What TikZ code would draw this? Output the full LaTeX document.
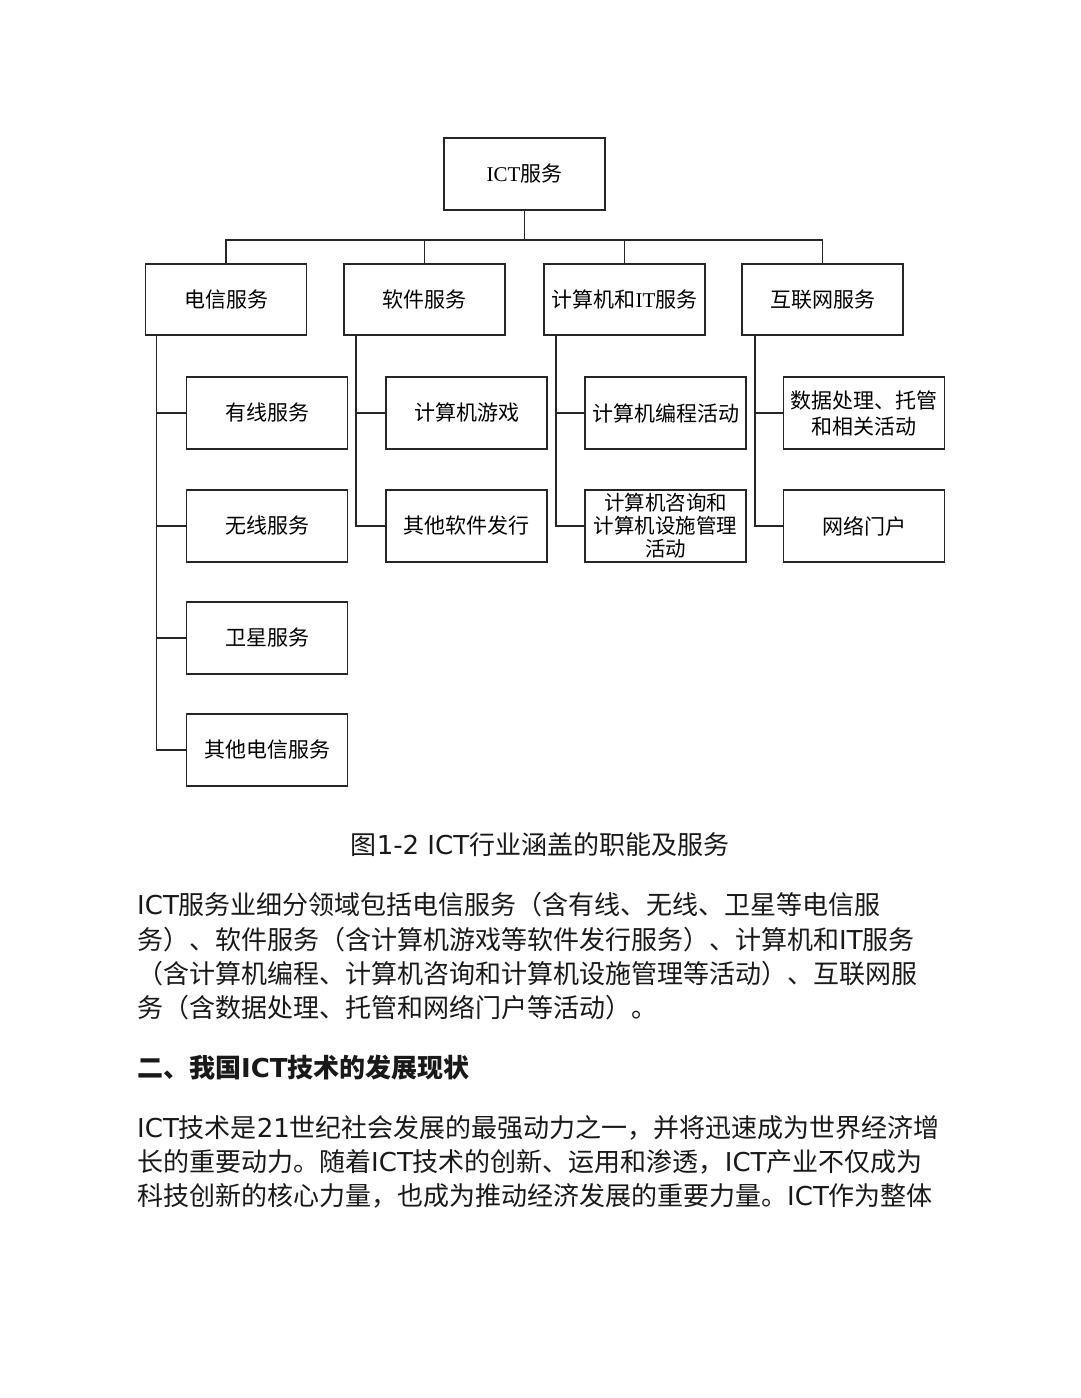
\documentclass[tikz,border=0pt]{standalone}
\usepackage{fontspec}
\setmainfont{Noto Sans CJK SC}
\newfontfamily\lat{DejaVu Sans}
\newfontfamily\ser{Liberation Serif}
\begin{document}
\begin{tikzpicture}[x=1pt,y=-1pt,
  box/.style={draw=black!85,line width=1.6pt,minimum width=161pt,minimum height=72pt,inner sep=0pt,align=center,font=\fontsize{21}{26}\selectfont},
  link/.style={draw=black!85,line width=1.5pt},
  body/.style={anchor=base west,inner sep=0pt,font=\fontsize{26}{34}\selectfont,text=black!90}]
\useasboundingbox (0,0) rectangle (1080,1398);
\fill[white] (0,0) rectangle (1080,1398);
% level 0
\node[box] (ict) at (524.5,174) {{\ser ICT}服务};
% level 1
\node[box,minimum height=71pt] (tel) at (226,299.5) {电信服务};
\node[box,minimum height=71pt] (sw) at (424.5,299.5) {软件服务};
\node[box,minimum height=71pt] (cit) at (624.5,299.5) {计算机和{\ser IT}服务};
\node[box,minimum height=71pt] (net) at (822.5,299.5) {互联网服务};
% level 2
\node[box] (t1) at (267,413) {有线服务};
\node[box] (t2) at (267,526) {无线服务};
\node[box] (t3) at (267,638) {卫星服务};
\node[box] (t4) at (267,750) {其他电信服务};
\node[box] (s1) at (466.5,413) {计算机游戏};
\node[box] (s2) at (466.5,526) {其他软件发行};
\node[box] (c1) at (665.5,413) {计算机编程活动};
\node[box,font=\fontsize{20.5}{23}\selectfont] (c2) at (665.5,526) {计算机咨询和\\计算机设施管理\\活动};
\node[box,font=\fontsize{21}{26}\selectfont] (n1) at (864,413) {数据处理、托管\\和相关活动};
\node[box] (n2) at (864,526) {网络门户};
% bus
\coordinate (bus) at (524.5,240);
\draw[link] (ict.south) -- (bus);
\draw[link] (tel.north) -- (tel.north |- bus) -- (net.north |- bus) -- (net.north);
\draw[link] (sw.north) -- (sw.north |- bus);
\draw[link] (cit.north) -- (cit.north |- bus);
% trunks
\coordinate (tt) at ([xshift=12pt]tel.south west);
\coordinate (st) at ([xshift=13pt]sw.south west);
\coordinate (ct) at ([xshift=13pt]cit.south west);
\coordinate (nt) at ([xshift=14pt]net.south west);
\draw[link] (tt) |- (t4.west);
\draw[link] (tt) |- (t1.west);
\draw[link] (tt) |- (t2.west);
\draw[link] (tt) |- (t3.west);
\draw[link] (st) |- (s2.west);
\draw[link] (st) |- (s1.west);
\draw[link] (ct) |- (c2.west);
\draw[link] (ct) |- (c1.west);
\draw[link] (nt) |- (n2.west);
\draw[link] (nt) |- (n1.west);
% caption
\node[anchor=base,inner sep=0pt,font=\fontsize{26}{34}\selectfont,text=black!90] (cap) at (540,854) {图{\lat 1-2 ICT}行业涵盖的职能及服务};
% paragraph 1
\node[body] (p1) at (137,914) {{\lat ICT}服务业细分领域包括电信服务（含有线、无线、卫星等电信服};
\node[body] (p2) at (137,949) {务）、软件服务（含计算机游戏等软件发行服务）、计算机和{\lat IT}服务};
\node[body] (p3) at (137,983) {（含计算机编程、计算机咨询和计算机设施管理等活动）、互联网服};
\node[body] (p4) at (137,1017) {务（含数据处理、托管和网络门户等活动）。};
% heading
\node[body,font=\fontsize{26}{34}\selectfont\bfseries] (h) at (137,1077) {二、我国{\lat\bfseries ICT}技术的发展现状};
% paragraph 2
\node[body] (q1) at (137,1137) {{\lat ICT}技术是{\lat 21}世纪社会发展的最强动力之一，并将迅速成为世界经济增};
\node[body] (q2) at (137,1171) {长的重要动力。随着{\lat ICT}技术的创新、运用和渗透，{\lat ICT}产业不仅成为};
\node[body] (q3) at (137,1205) {科技创新的核心力量，也成为推动经济发展的重要力量。{\lat ICT}作为整体};
\end{tikzpicture}
\end{document}
